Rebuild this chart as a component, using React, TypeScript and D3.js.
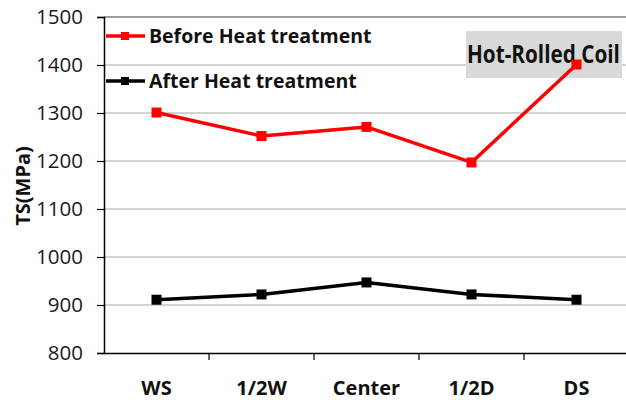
import React, { useRef, useEffect } from 'react';
import * as d3 from 'd3';

const categories = ['WS', '1/2W', 'Center', '1/2D', 'DS'];
const beforeHeat = [1301, 1252, 1271, 1197, 1401];
const afterHeat = [911, 922, 947, 922, 911];
const yTicks = [800, 900, 1000, 1100, 1200, 1300, 1400, 1500];
const seriesNames = ['Before Heat treatment', 'After Heat treatment'];

const W = 626;
const H = 400;

const App = () => {
  const ref = useRef<SVGSVGElement>(null);

  useEffect(() => {
    const svg = d3.select(ref.current);
    svg.selectAll('*').remove();

    const font = "'Open Sans', 'Noto Sans', sans-serif";
    const x = d3.scaleBand().domain(categories).range([104, 629]);
    const y = d3.scaleLinear().domain([800, 1500]).range([353, 17]);
    const cx = (c: string) => (x(c) as number) + x.bandwidth() / 2;

    // gridlines
    svg.append('g')
      .selectAll('line')
      .data(yTicks.filter(t => t > 800 && t < 1500))
      .join('line')
      .attr('x1', 104).attr('x2', W)
      .attr('y1', d => y(d)).attr('y2', d => y(d))
      .attr('stroke', '#a6a6a6')
      .attr('stroke-width', 1);

    svg.append('line')
      .attr('x1', 104).attr('x2', W)
      .attr('y1', y(1500)).attr('y2', y(1500))
      .attr('stroke', '#404040')
      .attr('stroke-width', 1.2);

    // y axis
    const yAxis = svg.append('g')
      .attr('transform', 'translate(104,0)')
      .call(d3.axisLeft(y).tickValues(yTicks).tickSize(7).tickPadding(14).tickFormat(d3.format('d')));
    yAxis.select('.domain').attr('stroke', '#000').attr('stroke-width', 1.5);
    yAxis.selectAll('.tick line').attr('stroke', '#000').attr('stroke-width', 1.2);
    yAxis.selectAll('.tick text')
      .attr('font-family', font)
      .attr('font-size', 20.5)
      .attr('fill', '#1a1a1a');

    // x axis
    const xAxis = svg.append('g')
      .attr('transform', 'translate(0,353)')
      .call(d3.axisBottom(x).tickSize(0).tickPadding(0));
    xAxis.select('.domain').attr('stroke', '#000').attr('stroke-width', 1.5);
    xAxis.selectAll('.tick text')
      .attr('font-family', font)
      .attr('font-size', 20)
      .attr('font-weight', 'bold')
      .attr('fill', '#111')
      .attr('dy', 0)
      .attr('y', 42);
    svg.append('g')
      .selectAll('line')
      .data(categories.slice(1))
      .join('line')
      .attr('x1', d => x(d) as number).attr('x2', d => x(d) as number)
      .attr('y1', 353).attr('y2', 360)
      .attr('stroke', '#000').attr('stroke-width', 1.2);

    // y title
    svg.append('text')
      .attr('transform', 'translate(30,186) rotate(-90)')
      .attr('text-anchor', 'middle')
      .attr('font-family', font)
      .attr('font-size', 20)
      .attr('font-weight', 'bold')
      .attr('fill', '#111')
      .text('TS(MPa)');

    // annotation box
    svg.append('rect')
      .attr('x', 466).attr('y', 31).attr('width', 156).attr('height', 47)
      .attr('fill', '#d9d9d9');
    const note = svg.append('text')
      .attr('x', 0).attr('y', 0)
      .attr('font-family', font)
      .attr('font-size', 25)
      .attr('font-weight', 'bold')
      .attr('fill', '#111')
      .text('Hot-Rolled Coil');
    const noteLen = (note.node() as SVGTextElement).getComputedTextLength() || 153;
    note.attr('transform', `translate(467,63) scale(${153 / noteLen},1)`);

    const line = d3.line<number>()
      .x((_, i) => cx(categories[i]))
      .y(d => y(d));

    const series = [
      { name: seriesNames[0], values: beforeHeat, color: '#ff0000' },
      { name: seriesNames[1], values: afterHeat, color: '#000000' },
    ];

    series.forEach((s, si) => {
      svg.append('path')
        .datum(s.values)
        .attr('d', line)
        .attr('fill', 'none')
        .attr('stroke', s.color)
        .attr('stroke-width', 3.5)
        .attr('stroke-linejoin', 'round');
      svg.append('g')
        .selectAll('rect')
        .data(s.values)
        .join('rect')
        .attr('x', (_, i) => cx(categories[i]) - 5)
        .attr('y', d => y(d) - 5)
        .attr('width', 10).attr('height', 10)
        .attr('fill', s.color);

      // legend
      const ly = 36 + si * 45;
      const lg = svg.append('g');
      lg.append('line')
        .attr('x1', 106).attr('x2', 145)
        .attr('y1', ly).attr('y2', ly)
        .attr('stroke', s.color).attr('stroke-width', 3.5);
      lg.append('rect')
        .attr('x', 121).attr('y', ly - 4).attr('width', 8).attr('height', 8)
        .attr('fill', s.color);
      lg.append('text')
        .attr('x', 149).attr('y', ly + 7)
        .attr('font-family', font)
        .attr('font-size', 19.5)
        .attr('font-weight', 'bold')
        .attr('fill', '#111')
        .text(s.name);
    });
  }, []);

  return <svg ref={ref} width={W} height={H} style={{ display: 'block', position: 'absolute', left: 0, top: 0 }} />;
};

export default App;
